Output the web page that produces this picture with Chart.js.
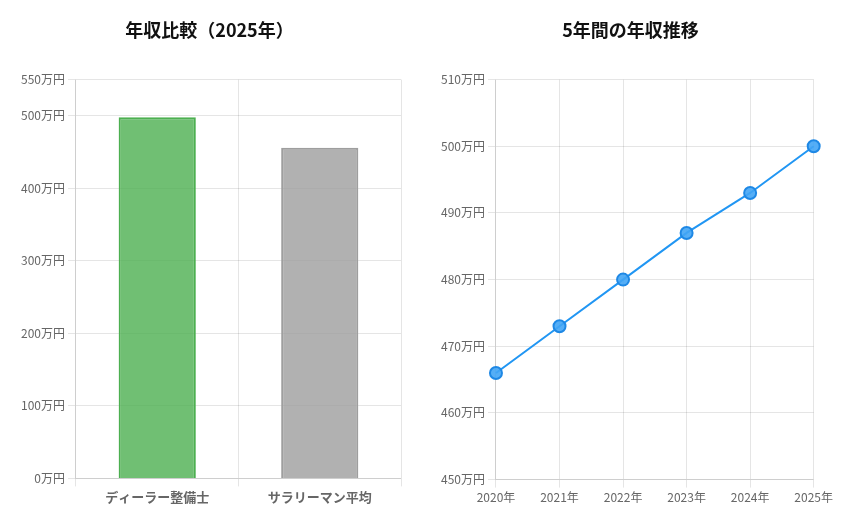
<!DOCTYPE html>
<html><head><meta charset="utf-8">
<script src="https://cdn.jsdelivr.net/npm/chart.js@4"></script>
<style>
body{margin:0;background:#fff;width:844px;height:520px;overflow:hidden;font-family:"Noto Sans CJK JP",sans-serif}
.box{position:absolute;top:0;height:520px}
</style></head><body>
<div class="box" style="left:0;width:414px"><canvas id="c1"></canvas></div>
<div class="box" style="left:422px;width:414px"><canvas id="c2"></canvas></div>
<script>
const barCategories = ["ディーラー整備士", "サラリーマン平均"];
const barValues = [498, 456];
const years = ["2020年","2021年","2022年","2023年","2024年","2025年"];
const incomeValues = [466, 473, 480, 487, 493, 500];
const font = "'Noto Sans CJK JP', sans-serif";
Chart.defaults.font.family = font;
Chart.defaults.color = "#666";
const titleOpt = t => ({display:true,text:t,font:{size:18,weight:'bold',family:font},color:'#111',padding:{top:19,bottom:39}});
new Chart(document.getElementById('c1'), {
  type:'bar',
  data:{labels:barCategories,datasets:[{data:barValues,
    backgroundColor:['rgba(76,175,80,0.8)','rgba(158,158,158,0.8)'],
    borderColor:['#4caf50','#9e9e9e'],borderWidth:2,barPercentage:0.95,categoryPercentage:0.5}]},
  options:{responsive:true,maintainAspectRatio:false,animation:false,
    layout:{padding:{left:18,right:13,bottom:12}},
    plugins:{legend:{display:false},title:titleOpt('年収比較（2025年）')},
    scales:{y:{min:0,max:550,ticks:{stepSize:100,callback:v=>v+'万円',font:{size:12}}},
      x:{ticks:{font:{size:13,weight:'bold'}}}}}
});
new Chart(document.getElementById('c2'), {
  type:'line',
  data:{labels:years,datasets:[{data:incomeValues,borderColor:'#2196f3',backgroundColor:'rgba(33,150,243,0.8)',
    borderWidth:2,pointRadius:6,pointBackgroundColor:'rgba(66,165,245,0.9)',pointBorderColor:'#1e88e5',pointBorderWidth:2,tension:0}]},
  options:{responsive:true,maintainAspectRatio:false,animation:false,
    layout:{padding:{left:16,right:13,bottom:12}},
    plugins:{legend:{display:false},title:titleOpt('5年間の年収推移')},
    scales:{y:{min:450,max:510,ticks:{stepSize:10,callback:v=>v+'万円',font:{size:12}}},
      x:{ticks:{font:{size:12}}}}}
});
</script></body></html>
